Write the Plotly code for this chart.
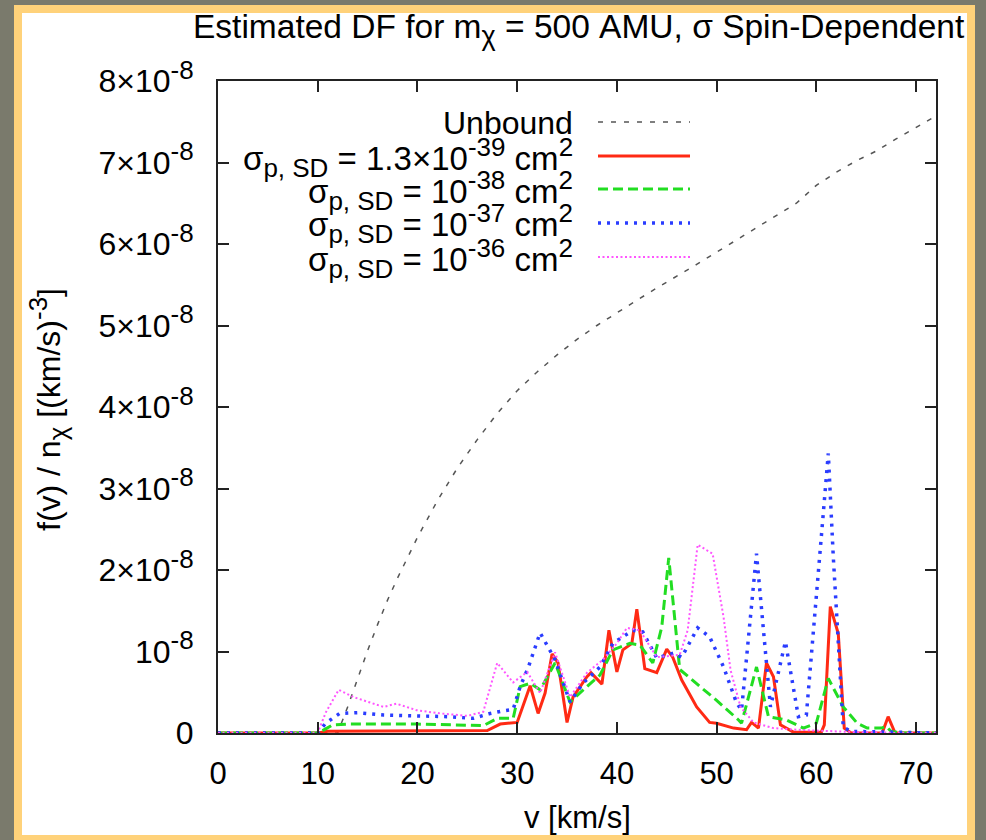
import numpy as np
import plotly.graph_objects as go

# ---- data (f values in units of 1e-8 (km/s)^-3) ----
SCALE = 1e-8

v_unbound = [0, 12.0, 13, 14, 15, 16, 17, 18, 20, 22, 24, 26, 28, 30, 32, 34, 36, 38,
             40, 42, 44, 46, 48, 50, 52, 54, 56, 58, 60, 62, 64, 66, 68, 70, 72]
f_unbound = [0, 0, 0.32, 0.67, 1.01, 1.33, 1.63, 1.9, 2.4, 2.85, 3.25, 3.6, 3.92, 4.2,
             4.43, 4.64, 4.83, 5.0, 5.16, 5.31, 5.46, 5.6, 5.75, 5.9, 6.05, 6.2, 6.35,
             6.5, 6.72, 6.88, 7.02, 7.14, 7.29, 7.43, 7.57]

v_sd39 = [0, 10.0, 11, 27, 28.3, 30.0, 31.3, 32.1, 32.8, 33.5, 34.1, 35.0, 35.6, 37.0,
          37.4, 38.5, 39.2, 40.0, 40.6, 41.5, 42.0, 42.8, 44.0, 45.0, 45.6, 46.5, 48.0,
          49.3, 50.0, 51.7, 53.0, 53.5, 54.2, 55.0, 55.7, 56.4, 57.7, 60.5, 60.8, 61.4,
          62.2, 62.8, 63.5, 66.6, 67.2, 67.9, 72]
f_sd39 = [0, 0, 0.02, 0.03, 0.11, 0.13, 0.58, 0.24, 0.49, 0.97, 0.86, 0.13, 0.44, 0.69,
          0.74, 0.6, 1.26, 0.75, 1.02, 1.1, 1.52, 0.79, 0.74, 1.03, 0.93, 0.65, 0.32,
          0.13, 0.12, 0.06, 0.04, 0.13, 0.06, 0.86, 0.69, 0.1, 0.01, 0.01, 0.1, 1.55,
          1.22, 0.06, 0, 0, 0.2, 0, 0]

v_sd38 = [0, 10.0, 10.8, 11.5, 13, 20, 26.6, 28.0, 29.6, 30.3, 31.3, 32.3, 33.8, 35.3,
          37.0, 38.3, 39.6, 41.3, 42.3, 43.6, 44.5, 45.2, 46.3, 48.0, 50.0, 52.2, 52.5,
          54.0, 55.2, 57.0, 58.7, 60.0, 61.2, 62.7, 64.1, 65.1, 66.5, 67.0, 67.5, 68.5, 72]
f_sd38 = [0, 0, 0.05, 0.1, 0.11, 0.11, 0.09, 0.18, 0.18, 0.57, 0.61, 0.53, 0.86, 0.38,
          0.57, 0.71, 1.02, 1.1, 1.08, 0.86, 1.3, 2.15, 0.78, 0.61, 0.4, 0.16, 0.12,
          0.81, 0.2, 0.16, 0.06, 0.12, 0.67, 0.32, 0.12, 0.06, 0.06, 0.08, 0.02, 0, 0]

v_sd37 = [0, 10.0, 10.8, 12.2, 14, 16.6, 20, 23, 25.6, 27.3, 28.5, 29.6, 30.3, 31.1,
          32.3, 33.8, 35.3, 36.6, 38.3, 39.6, 41.6, 42.6, 44.0, 45.7, 46.5, 48.1, 49.3,
          50.7, 52.0, 52.5, 54.0, 55.0, 55.4, 56.9, 58.2, 59.0, 61.2, 61.7, 62.7, 63.5, 72]
f_sd37 = [0, 0, 0.12, 0.24, 0.25, 0.22, 0.21, 0.2, 0.18, 0.24, 0.27, 0.29, 0.57, 0.8,
          1.23, 0.9, 0.38, 0.61, 0.81, 1.1, 1.26, 1.24, 0.92, 0.98, 0.93, 1.29, 1.18,
          0.81, 0.37, 0.28, 2.2, 0.86, 0.32, 1.12, 0.2, 0.22, 3.43, 2.16, 0.07, 0.02, 0]

v_sd36 = [0, 10.0, 10.8, 12.1, 13.6, 15, 16.6, 17.9, 19.9, 22.3, 25.0, 26.6, 28.0, 29.6,
          31.0, 32.3, 33.8, 35.3, 37.0, 38.6, 40.0, 41.0, 42.3, 44.0, 46.3, 47.1, 48.1,
          49.6, 50.7, 51.4, 52.4, 53.7, 55.7, 58, 60, 62, 64, 66, 68, 72]
f_sd36 = [0, 0, 0.25, 0.53, 0.44, 0.38, 0.32, 0.36, 0.28, 0.24, 0.21, 0.26, 0.86, 0.62,
          0.75, 0.49, 0.99, 0.44, 0.74, 0.9, 1.1, 1.29, 1.26, 0.93, 0.96, 1.26, 2.31,
          2.2, 1.42, 0.77, 0.32, 0.13, 0.06, 0.04, 0.03, 0.02, 0.01, 0.01, 0, 0]

y_ticks = [0, 1, 2, 3, 4, 5, 6, 7, 8]
x_ticks = [0, 10, 20, 30, 40, 50, 60, 70]


def sup(s, size=26):
    return f'<sup><span style="font-size:{size}px">{s}</span></sup>'


def sub(s, size=26):
    return f'<sub><span style="font-size:{size}px">{s}</span></sub>'


y_ticktext = ["0", "10" + sup("-8")] + [f"{k}×10" + sup("-8") for k in y_ticks[2:]]

sig = "σ" + sub("p, SD")
series = [
    ("Unbound", v_unbound, f_unbound, "#555555", 1.5, "5px,8px"),
    (sig + " = 1.3×10" + sup("-39") + " cm" + sup("2"), v_sd39, f_sd39, "#ff2a14", 3, "solid"),
    (sig + " = 10" + sup("-38") + " cm" + sup("2"), v_sd38, f_sd38, "#22dd22", 3, "10px,5px"),
    (sig + " = 10" + sup("-37") + " cm" + sup("2"), v_sd37, f_sd37, "#2a3cff", 3.5, "3px,6px"),
    (sig + " = 10" + sup("-36") + " cm" + sup("2"), v_sd36, f_sd36, "#ff55ff", 2, "2px,2.5px"),
]

# ---- page geometry (pixels) ----
W, H = 986, 840
L, R, T, B = 218, 936, 81, 733
PW, PH = R - L, B - T


def px(x):
    return (x - L) / PW


def py(y):
    return (B - y) / PH


FONT = "Liberation Sans, Arial, Helvetica, sans-serif"

fig = go.Figure()
for name, xs, ys, col, w, dash in series:
    fig.add_trace(go.Scatter(
        x=xs, y=np.array(ys) * SCALE, mode="lines", name=name,
        line=dict(color=col, width=w, dash=dash), showlegend=False,
        hoverinfo="skip"))

shapes = [
    # yellow frame and white page
    dict(type="rect", xref="paper", yref="paper", x0=px(14), x1=px(975), y0=py(5), y1=py(845),
         fillcolor="#ffd27a", line=dict(width=0), layer="below"),
    dict(type="rect", xref="paper", yref="paper", x0=px(22), x1=px(967), y0=py(13), y1=py(835),
         fillcolor="#ffffff", line=dict(width=0), layer="below"),
]

annotations = [
    dict(text="Estimated DF for m" + sub("χ", 27) + " = 500 AMU, σ Spin-Dependent",
         x=px(967), y=py(30), xref="paper", yref="paper", xanchor="right", yanchor="middle",
         showarrow=False, font=dict(size=33.5, color="#000", family=FONT)),
    dict(text="v [km/s]", x=px(577), y=py(817), xref="paper", yref="paper",
         xanchor="center", yanchor="middle", showarrow=False,
         font=dict(size=31, color="#000", family=FONT)),
    dict(text="f(v) / n" + sub("χ") + " [(km/s)" + sup("-3") + "]", x=px(48), y=py(410),
         xref="paper", yref="paper", xanchor="center", yanchor="middle", textangle=-90,
         showarrow=False, font=dict(size=32, color="#000", family=FONT)),
]

# legend: text right-aligned, sample line on the right
row_y = [122, 156, 189, 223, 257]
for i, ((name, xs, ys, col, w, dash), ry) in enumerate(zip(series, row_y)):
    annotations.append(dict(text=name, x=px(575), y=py(ry + 1), xref="paper", yref="paper",
                            xanchor="right", yanchor="middle", showarrow=False,
                            font=dict(size=32 if i == 0 else 33, color="#000", family=FONT)))
    shapes.append(dict(type="line", xref="paper", yref="paper", x0=px(598), x1=px(690),
                       y0=py(ry), y1=py(ry), line=dict(color=col, width=w, dash=dash)))

fig.update_layout(
    width=W, height=H, margin=dict(l=L, r=W - R, t=T, b=H - B),
    paper_bgcolor="#7a7a6c", plot_bgcolor="#ffffff",
    shapes=shapes, annotations=annotations, showlegend=False,
    font=dict(family=FONT, color="#000"),
)
fig.update_xaxes(range=[0, 72], tickvals=x_ticks, ticks="inside", ticklen=11, tickwidth=2,
                 tickcolor="#222", showline=True, linecolor="#222", linewidth=2, mirror="ticks",
                 showgrid=False, zeroline=False, tickfont=dict(size=31, family=FONT),
                 ticklabelstandoff=12)
fig.update_yaxes(range=[0, 8 * SCALE], tickvals=[t * SCALE for t in y_ticks], ticktext=y_ticktext,
                 ticks="inside", ticklen=11, tickwidth=2, tickcolor="#222", showline=True,
                 linecolor="#222", linewidth=2, mirror="ticks", showgrid=False, zeroline=False,
                 tickfont=dict(size=32, family=FONT), ticklabelstandoff=16)

fig.write_html("out.html")
